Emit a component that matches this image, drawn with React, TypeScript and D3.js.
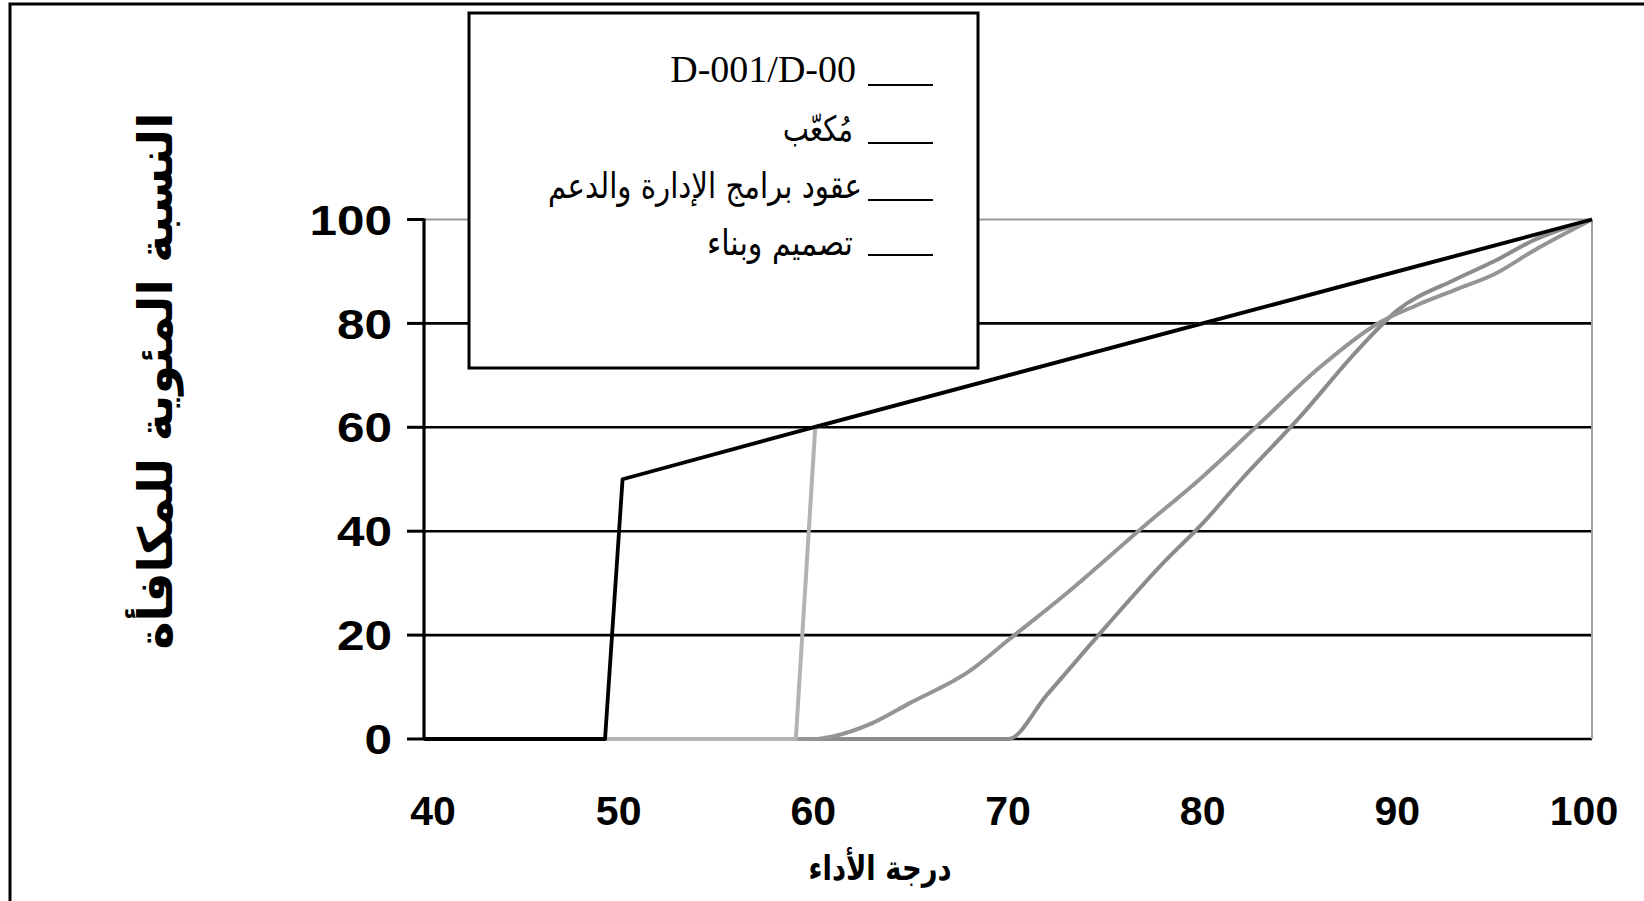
import React, { useRef, useEffect } from "react";
import * as d3 from "d3";

// x = درجة الأداء, y = النسبة المئوية للمكافأة
const xTicks = [40, 50, 60, 70, 80, 90, 100];
const yTicks = [0, 20, 40, 60, 80, 100];

const seriesNames = ["D-001/D-00", "مُكعّب", "عقود برامج الإدارة والدعم", "تصميم وبناء"];

// D-001/D-00
const blackX = [40, 49.3, 50.2, 60, 70, 80, 90, 100];
const blackY = [0, 0, 50, 60, 70, 80, 90, 100];

// light gray vertical jump at 60
const lightX = [40, 59.1, 60.1, 70, 80, 90, 100];
const lightY = [0, 0, 60.1, 70, 80, 90, 100];

// gray curve starting near 60
const curveX = [40, 60, 61, 63, 65, 68, 70, 73, 77, 80, 83, 86, 89, 91, 93, 95, 97, 100];
const curveY = [0, 0, 0.5, 3, 7, 13, 19, 28, 41, 50.5, 61, 71.5, 80, 83.5, 86.5, 89.5, 94, 100];

// gray line starting at 70
const steepX = [40, 70, 72, 75, 78, 80, 82, 85, 88, 90, 93, 95, 97, 100];
const steepY = [0, 0, 8.5, 21.5, 34, 41.5, 50, 62, 75, 82.5, 88.5, 92, 96, 100];

const App: React.FC = () => {
  const svgRef = useRef<SVGSVGElement | null>(null);

  useEffect(() => {
    const width = 1644;
    const height = 901;
    const svg = d3.select(svgRef.current);
    svg.selectAll("*").remove();
    svg.attr("width", width).attr("height", height);

    svg.append("rect").attr("width", width).attr("height", height).attr("fill", "#fff");

    // outer frame
    svg.append("rect")
      .attr("x", 10).attr("y", 4)
      .attr("width", 1700).attr("height", 950)
      .attr("fill", "none").attr("stroke", "#000").attr("stroke-width", 3);

    const x = d3.scaleLinear().domain([40, 100]).range([424, 1592]);
    const y = d3.scaleLinear().domain([0, 100]).range([739, 219.5]);

    const g = svg.append("g");

    // gridlines
    yTicks.forEach((v) => {
      g.append("line")
        .attr("x1", 407).attr("x2", x(40))
        .attr("y1", y(v)).attr("y2", y(v))
        .attr("stroke", "#000").attr("stroke-width", 3);
      g.append("line")
        .attr("x1", x(40)).attr("x2", x(100))
        .attr("y1", y(v)).attr("y2", y(v))
        .attr("stroke", v === 100 ? "#9a9a9a" : "#000")
        .attr("stroke-width", v === 100 ? 2 : 2.6);
    });

    // right border of plot
    g.append("line")
      .attr("x1", x(100)).attr("x2", x(100))
      .attr("y1", y(100)).attr("y2", y(0))
      .attr("stroke", "#a0a0a0").attr("stroke-width", 2);

    // y axis
    g.append("line")
      .attr("x1", x(40)).attr("x2", x(40))
      .attr("y1", y(100) - 1).attr("y2", y(0) + 1)
      .attr("stroke", "#000").attr("stroke-width", 3.2);

    const toPts = (xs: number[], ys: number[]) => xs.map((d, i) => [d, ys[i]] as [number, number]);

    const straight = d3.line<[number, number]>().x((d) => x(d[0])).y((d) => y(d[1]));
    const smooth = d3.line<[number, number]>().x((d) => x(d[0])).y((d) => y(d[1])).curve(d3.curveMonotoneX);

    g.append("path").attr("d", smooth(toPts(steepX, steepY)))
      .attr("fill", "none").attr("stroke", "#8c8c8c").attr("stroke-width", 4);
    g.append("path").attr("d", smooth(toPts(curveX, curveY)))
      .attr("fill", "none").attr("stroke", "#959595").attr("stroke-width", 4);
    g.append("path").attr("d", straight(toPts(lightX, lightY)))
      .attr("fill", "none").attr("stroke", "#b3b3b3").attr("stroke-width", 4);
    g.append("path").attr("d", straight(toPts(blackX, blackY)))
      .attr("fill", "none").attr("stroke", "#000").attr("stroke-width", 3.8)
      .attr("stroke-linejoin", "round");

    // tick labels
    g.selectAll(".ytick")
      .data(yTicks)
      .join("text")
      .attr("x", 392)
      .attr("y", (d) => y(d))
      .attr("dy", "0.36em")
      .attr("text-anchor", "end")
      .attr("textLength", (d) => String(d).length * 27.5)
      .attr("lengthAdjust", "spacingAndGlyphs")
      .style("font-family", "'Liberation Sans', Arial, sans-serif")
      .style("font-weight", "bold")
      .style("font-size", "42px")
      .text((d) => d);

    const xLabelShift = (d: number) => (d === 40 ? 9 : d === 100 ? -8 : 0);
    g.selectAll(".xtick")
      .data(xTicks)
      .join("text")
      .attr("x", (d) => x(d) + xLabelShift(d))
      .attr("y", 825)
      .attr("text-anchor", "middle")
      .style("font-family", "'Liberation Sans', Arial, sans-serif")
      .style("font-weight", "bold")
      .style("font-size", "41px")
      .text((d) => d);

    // axis titles
    svg.append("text")
      .attr("x", 880).attr("y", 880)
      .attr("text-anchor", "middle")
      .attr("textLength", 143).attr("lengthAdjust", "spacingAndGlyphs")
      .style("font-family", "'DejaVu Sans', sans-serif")
      .style("font-weight", "bold")
      .style("font-size", "34px")
      .text("درجة الأداء");

    svg.append("text")
      .attr("transform", "translate(172,381) rotate(-90)")
      .attr("text-anchor", "middle")
      .attr("textLength", 537).attr("lengthAdjust", "spacingAndGlyphs")
      .style("font-family", "'DejaVu Sans', sans-serif")
      .style("font-weight", "bold")
      .style("font-size", "47px")
      .text("النسبة المئوية للمكافأة");

    // ===== Legend =====
    svg.append("rect")
      .attr("x", 469).attr("y", 13)
      .attr("width", 509).attr("height", 355)
      .attr("fill", "#fff").attr("stroke", "#000").attr("stroke-width", 3);

    const rowBase = [82, 141, 198, 255];
    const rowLine = [85, 143, 200, 255];
    const rowRight = [856, 853, 862, 853];
    const rowWidth = [0, 70, 314, 146];

    seriesNames.forEach((name, i) => {
      svg.append("line")
        .attr("x1", 868).attr("x2", 933)
        .attr("y1", rowLine[i]).attr("y2", rowLine[i])
        .attr("stroke", "#000").attr("stroke-width", 2);
      const t = svg.append("text")
        .attr("x", rowRight[i]).attr("y", rowBase[i])
        .attr("text-anchor", "end")
        .style("font-size", i === 0 ? "38px" : "35px")
        .style("font-family", i === 0 ? "'Liberation Serif', 'Times New Roman', serif" : "'DejaVu Sans', sans-serif")
        .text(name);
      if (i > 0) t.attr("textLength", rowWidth[i]).attr("lengthAdjust", "spacingAndGlyphs");
    });
  }, []);

  return (
    <div style={{ position: "absolute", left: 0, top: 0 }}>
      <svg ref={svgRef} width={1644} height={901} style={{ display: "block" }} />
    </div>
  );
};

export default App;
